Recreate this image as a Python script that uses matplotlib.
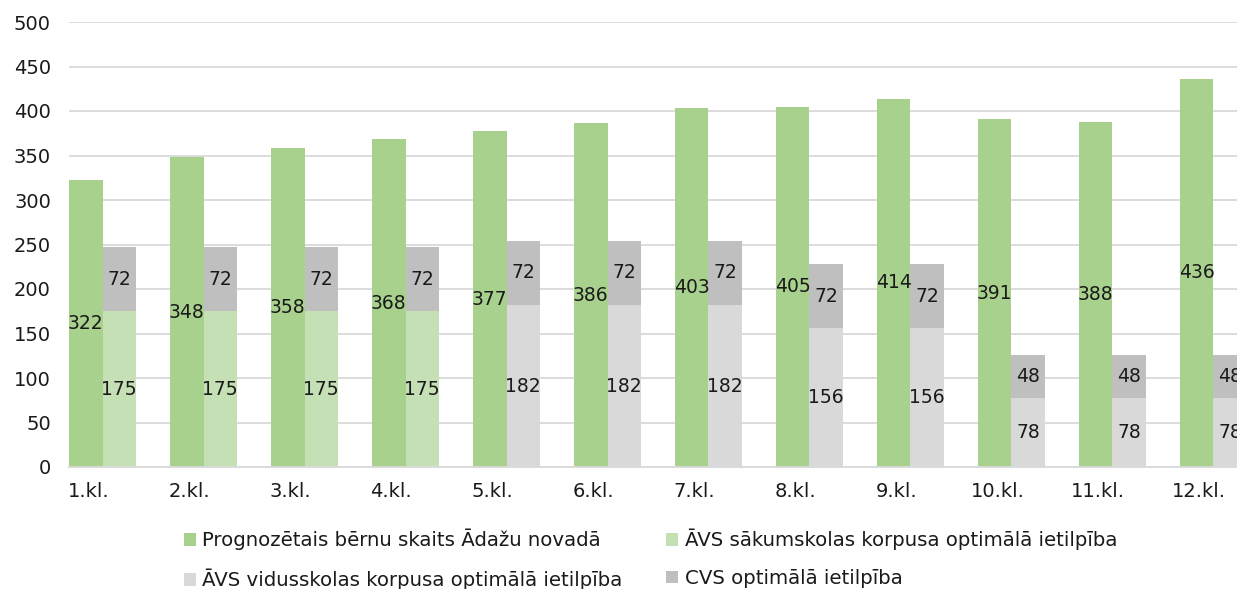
import numpy as np
import matplotlib.pyplot as plt

# Klases un vērtības
klases = ['1.kl.', '2.kl.', '3.kl.', '4.kl.', '5.kl.', '6.kl.',
          '7.kl.', '8.kl.', '9.kl.', '10.kl.', '11.kl.', '12.kl.']
prognoze = [322, 348, 358, 368, 377, 386, 403, 405, 414, 391, 388, 436]
avs_sakumskola = [175, 175, 175, 175, 0, 0, 0, 0, 0, 0, 0, 0]
avs_vidusskola = [0, 0, 0, 0, 182, 182, 182, 156, 156, 78, 78, 78]
cvs = [72, 72, 72, 72, 72, 72, 72, 72, 72, 48, 48, 48]

nosaukumi = ['Prognozētais bērnu skaits Ādažu novadā',
             'ĀVS sākumskolas korpusa optimālā ietilpība',
             'ĀVS vidusskolas korpusa optimālā ietilpība',
             'CVS optimālā ietilpība']
krasas = ['#A9D18E', '#C5E0B4', '#D9D9D9', '#BFBFBF']

plt.rcParams['font.family'] = ['DejaVu Sans']
teksts = '#1a1a1a'

x = np.arange(len(klases))
w = 0.332

fig = plt.figure(figsize=(12.37, 5.89), dpi=100)
ax = fig.add_axes([69 / 1237, 122 / 589, 1 - 69 / 1237, 445 / 589])

b0 = ax.bar(x - w / 2, prognoze, w, color=krasas[0], label=nosaukumi[0], zorder=2)
b1 = ax.bar(x + w / 2, avs_sakumskola, w, color=krasas[1], label=nosaukumi[1], zorder=2)
b2 = ax.bar(x + w / 2, avs_vidusskola, w, bottom=avs_sakumskola, color=krasas[2],
            label=nosaukumi[2], zorder=2)
apaksa = np.array(avs_sakumskola) + np.array(avs_vidusskola)
b3 = ax.bar(x + w / 2, cvs, w, bottom=apaksa, color=krasas[3], label=nosaukumi[3], zorder=2)

# Datu etiķetes bāru centrā
for konteiners in [b0, b1, b2, b3]:
    for rect in konteiners:
        h = rect.get_height()
        if h <= 0:
            continue
        ax.text(rect.get_x() + rect.get_width() / 2, rect.get_y() + h / 2, f'{h:.0f}',
                ha='center', va='center', fontsize=13.5, color=teksts, zorder=3)

ax.set_xlim(-w, 11.233)
ax.set_ylim(0, 500)
ax.set_yticks(np.arange(0, 501, 50))
ax.set_xticks(x - 0.14)
ax.set_xticklabels(klases)
ax.tick_params(axis='both', length=0, labelsize=14, colors=teksts)
ax.tick_params(axis='y', pad=13)
ax.tick_params(axis='x', pad=11)
ax.grid(axis='y', color='#D9D9D9', linewidth=1.3, zorder=0)
ax.set_axisbelow(True)
for s in ['top', 'right', 'left']:
    ax.spines[s].set_visible(False)
ax.spines['bottom'].set_color('#D9D9D9')
ax.spines['bottom'].set_linewidth(1.3)

# Leģenda: rindās pa diviem
rokturi = [b0, b2, b1, b3]
etiketes = [nosaukumi[0], nosaukumi[2], nosaukumi[1], nosaukumi[3]]
fig.legend(rokturi, etiketes, ncol=2, loc='upper left', bbox_to_anchor=(166 / 1237, 1 - 511 / 589),
           frameon=False, fontsize=14.2, handlelength=0.6, handleheight=0.6, handletextpad=0.35,
           columnspacing=2.2, labelspacing=0.95, labelcolor=teksts)

fig.savefig('out.png', dpi=100)
